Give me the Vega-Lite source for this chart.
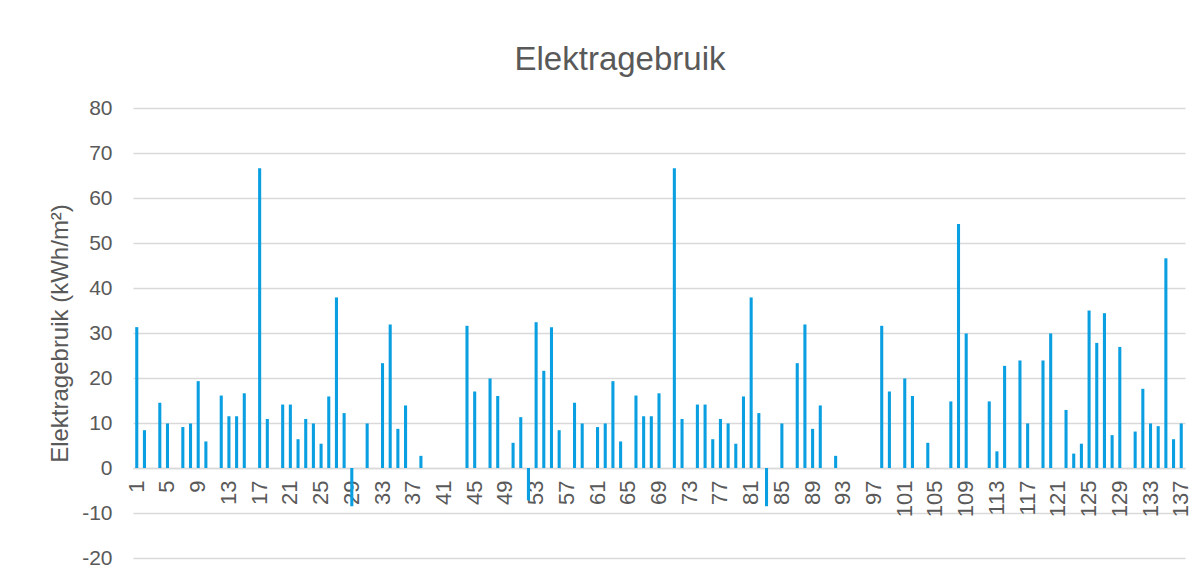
{
  "$schema": "https://vega.github.io/schema/vega-lite/v6.json",
  "width": 1052,
  "height": 450,
  "autosize": "none",
  "padding": {"left": 133, "top": 108, "right": 17, "bottom": 23},
  "background": "white",
  "title": {
    "text": "Elektragebruik",
    "font": "Liberation Sans",
    "fontSize": 33,
    "fontWeight": "normal",
    "color": "#595959",
    "anchor": "middle",
    "baseline": "alphabetic",
    "offset": -6,
    "dx": -39
  },
  "data": {
    "values": [
      {"nr": 1, "v": 31.3}, {"nr": 2, "v": 8.4}, {"nr": 3, "v": null}, {"nr": 4, "v": 14.5}, {"nr": 5, "v": 9.9},
      {"nr": 6, "v": null}, {"nr": 7, "v": 9.1}, {"nr": 8, "v": 9.9}, {"nr": 9, "v": 19.3}, {"nr": 10, "v": 5.9},
      {"nr": 11, "v": null}, {"nr": 12, "v": 16.1}, {"nr": 13, "v": 11.5}, {"nr": 14, "v": 11.5}, {"nr": 15, "v": 16.6},
      {"nr": 16, "v": null}, {"nr": 17, "v": 66.6}, {"nr": 18, "v": 10.9}, {"nr": 19, "v": null}, {"nr": 20, "v": 14.1},
      {"nr": 21, "v": 14.1}, {"nr": 22, "v": 6.4}, {"nr": 23, "v": 10.9}, {"nr": 24, "v": 9.9}, {"nr": 25, "v": 5.4},
      {"nr": 26, "v": 15.9}, {"nr": 27, "v": 37.9}, {"nr": 28, "v": 12.2}, {"nr": 29, "v": -8.5}, {"nr": 30, "v": null},
      {"nr": 31, "v": 9.9}, {"nr": 32, "v": null}, {"nr": 33, "v": 23.3}, {"nr": 34, "v": 31.9}, {"nr": 35, "v": 8.7},
      {"nr": 36, "v": 13.9}, {"nr": 37, "v": null}, {"nr": 38, "v": 2.7}, {"nr": 39, "v": null}, {"nr": 40, "v": null},
      {"nr": 41, "v": null}, {"nr": 42, "v": null}, {"nr": 43, "v": null}, {"nr": 44, "v": 31.6}, {"nr": 45, "v": 17.0},
      {"nr": 46, "v": null}, {"nr": 47, "v": 19.9}, {"nr": 48, "v": 16.0}, {"nr": 49, "v": null}, {"nr": 50, "v": 5.6},
      {"nr": 51, "v": 11.3}, {"nr": 52, "v": -7.2}, {"nr": 53, "v": 32.4}, {"nr": 54, "v": 21.6}, {"nr": 55, "v": 31.3},
      {"nr": 56, "v": 8.4}, {"nr": 57, "v": null}, {"nr": 58, "v": 14.5}, {"nr": 59, "v": 9.9}, {"nr": 60, "v": null},
      {"nr": 61, "v": 9.1}, {"nr": 62, "v": 9.9}, {"nr": 63, "v": 19.3}, {"nr": 64, "v": 5.9}, {"nr": 65, "v": null},
      {"nr": 66, "v": 16.1}, {"nr": 67, "v": 11.5}, {"nr": 68, "v": 11.5}, {"nr": 69, "v": 16.6}, {"nr": 70, "v": null},
      {"nr": 71, "v": 66.6}, {"nr": 72, "v": 10.9}, {"nr": 73, "v": null}, {"nr": 74, "v": 14.1}, {"nr": 75, "v": 14.1},
      {"nr": 76, "v": 6.4}, {"nr": 77, "v": 10.9}, {"nr": 78, "v": 9.9}, {"nr": 79, "v": 5.4}, {"nr": 80, "v": 15.9},
      {"nr": 81, "v": 37.9}, {"nr": 82, "v": 12.2}, {"nr": 83, "v": -8.5}, {"nr": 84, "v": null}, {"nr": 85, "v": 9.9},
      {"nr": 86, "v": null}, {"nr": 87, "v": 23.3}, {"nr": 88, "v": 31.9}, {"nr": 89, "v": 8.7}, {"nr": 90, "v": 13.9},
      {"nr": 91, "v": null}, {"nr": 92, "v": 2.7}, {"nr": 93, "v": null}, {"nr": 94, "v": null}, {"nr": 95, "v": null},
      {"nr": 96, "v": null}, {"nr": 97, "v": null}, {"nr": 98, "v": 31.6}, {"nr": 99, "v": 17.0}, {"nr": 100, "v": null},
      {"nr": 101, "v": 19.9}, {"nr": 102, "v": 16.0}, {"nr": 103, "v": null}, {"nr": 104, "v": 5.6}, {"nr": 105, "v": null},
      {"nr": 106, "v": null}, {"nr": 107, "v": 14.8}, {"nr": 108, "v": 54.2}, {"nr": 109, "v": 29.9}, {"nr": 110, "v": null},
      {"nr": 111, "v": null}, {"nr": 112, "v": 14.8}, {"nr": 113, "v": 3.7}, {"nr": 114, "v": 22.7}, {"nr": 115, "v": null},
      {"nr": 116, "v": 23.9}, {"nr": 117, "v": 9.9}, {"nr": 118, "v": null}, {"nr": 119, "v": 23.9}, {"nr": 120, "v": 29.9},
      {"nr": 121, "v": null}, {"nr": 122, "v": 12.9}, {"nr": 123, "v": 3.2}, {"nr": 124, "v": 5.4}, {"nr": 125, "v": 35.0},
      {"nr": 126, "v": 27.8}, {"nr": 127, "v": 34.4}, {"nr": 128, "v": 7.3}, {"nr": 129, "v": 26.9}, {"nr": 130, "v": null},
      {"nr": 131, "v": 8.1}, {"nr": 132, "v": 17.6}, {"nr": 133, "v": 9.9}, {"nr": 134, "v": 9.3}, {"nr": 135, "v": 46.6},
      {"nr": 136, "v": 6.4}, {"nr": 137, "v": 9.9}
    ]
  },
  "mark": {"type": "bar", "color": "#0A9FE0"},
  "encoding": {
    "x": {
      "field": "nr",
      "type": "ordinal",
      "sort": null,
      "scale": {
        "domain": [1,2,3,4,5,6,7,8,9,10,11,12,13,14,15,16,17,18,19,20,21,22,23,24,25,26,27,28,29,30,31,32,33,34,35,36,37,38,39,40,41,42,43,44,45,46,47,48,49,50,51,52,53,54,55,56,57,58,59,60,61,62,63,64,65,66,67,68,69,70,71,72,73,74,75,76,77,78,79,80,81,82,83,84,85,86,87,88,89,90,91,92,93,94,95,96,97,98,99,100,101,102,103,104,105,106,107,108,109,110,111,112,113,114,115,116,117,118,119,120,121,122,123,124,125,126,127,128,129,130,131,132,133,134,135,136,137],
        "paddingInner": 0.6,
        "paddingOuter": 0.29
      },
      "axis": {
        "title": null,
        "offset": -90,
        "labelAngle": -90,
        "labelExpr": "datum.value % 4 == 1 ? datum.label : ''",
        "labelOverlap": false,
        "labelFont": "Liberation Sans",
        "labelFontSize": 22,
        "labelColor": "#595959",
        "labelPadding": 12,
        "ticks": false,
        "domainColor": "#D9D9D9",
        "domainWidth": 1.5,
        "grid": false
      }
    },
    "y": {
      "field": "v",
      "type": "quantitative",
      "scale": {"domain": [-20, 80], "nice": false, "zero": false},
      "axis": {
        "title": "Elektragebruik (kWh/m²)",
        "titleFont": "Liberation Sans",
        "titleFontSize": 24,
        "titleFontWeight": "normal",
        "titleColor": "#595959",
        "titlePadding": 9,
        "values": [-20, -10, 0, 10, 20, 30, 40, 50, 60, 70, 80],
        "labelExpr": "'' + datum.value",
        "labelFont": "Liberation Sans",
        "labelFontSize": 21,
        "labelColor": "#595959",
        "labelPadding": 21,
        "ticks": false,
        "domain": false,
        "grid": true,
        "gridColor": "#D9D9D9",
        "gridWidth": 1.5
      }
    }
  },
  "config": {
    "view": {"stroke": null}
  }
}
